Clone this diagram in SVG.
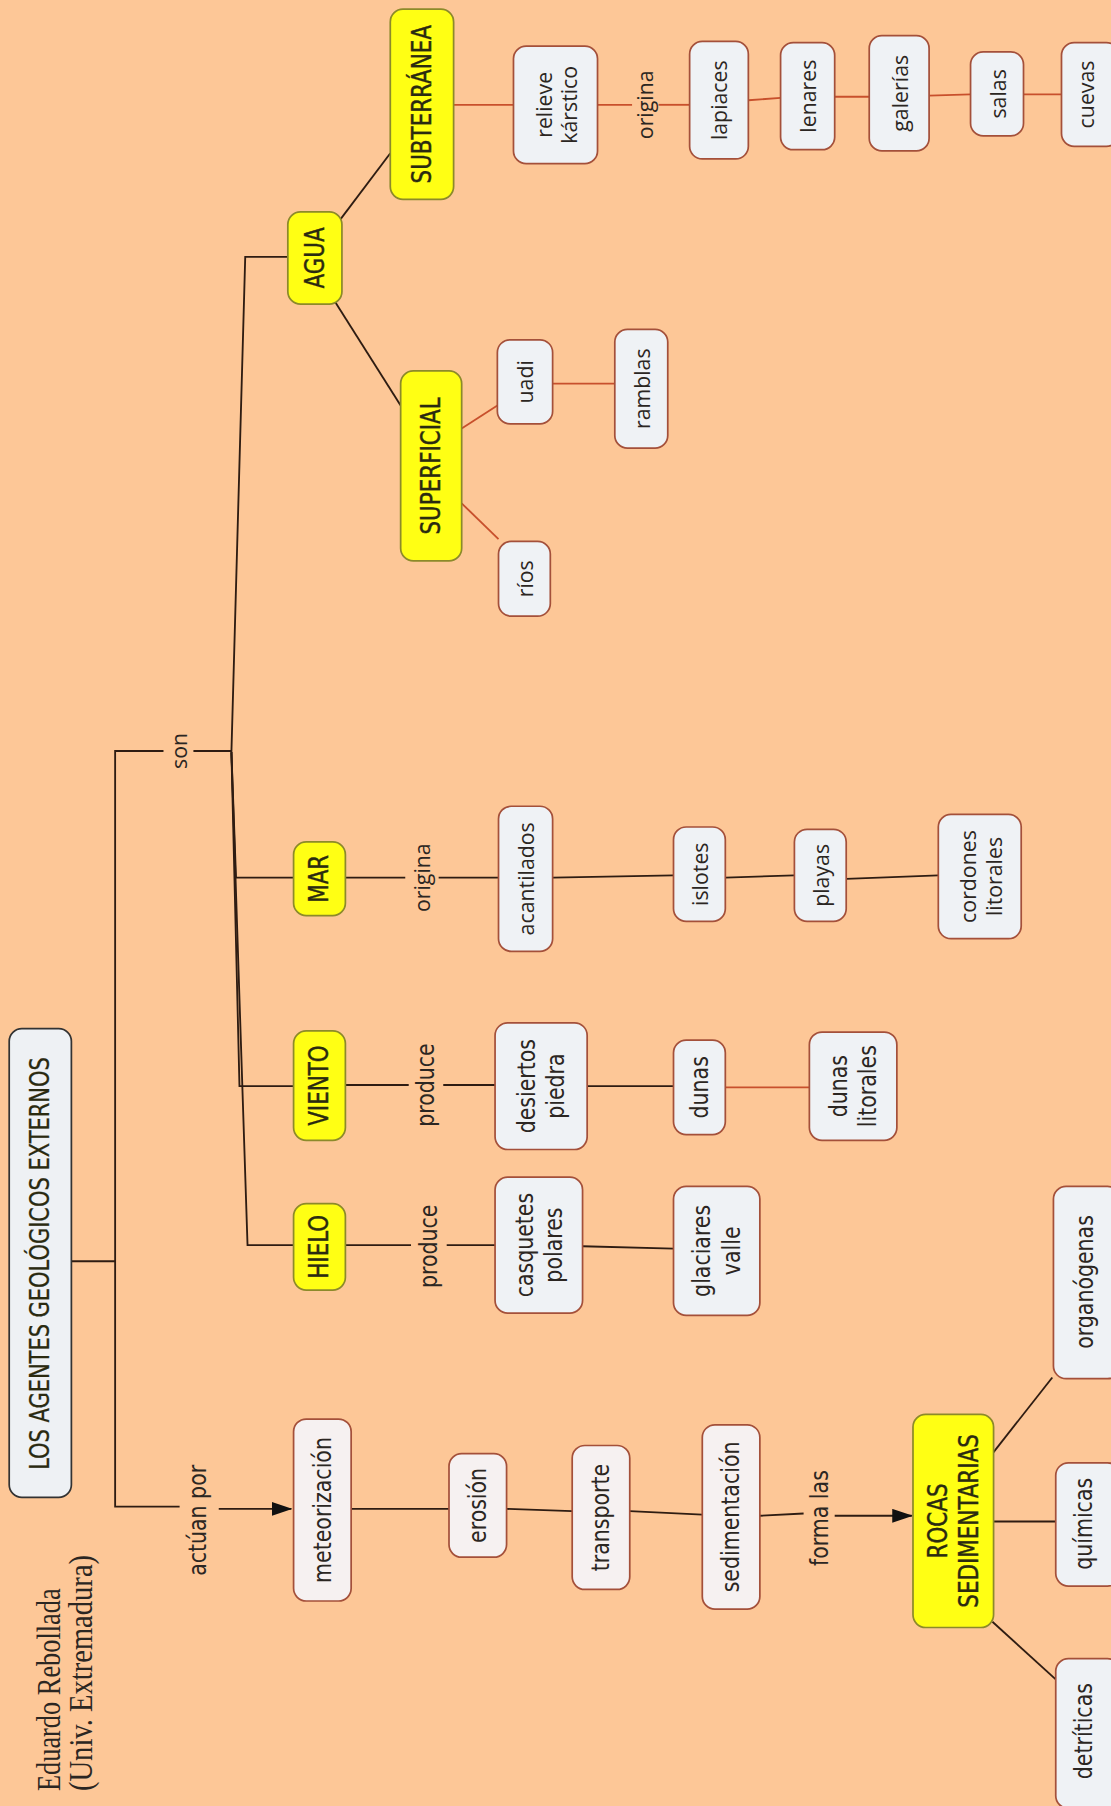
<svg xmlns="http://www.w3.org/2000/svg" width="1111" height="1806" viewBox="0 0 1111 1806">
<defs>
<style>
.bg{fill:#fdc797}
.w{fill:#eff2f5;stroke:#a4503a;stroke-width:1.5}
.p{fill:#f6f1f1;stroke:#a4503a;stroke-width:1.5}
.y{fill:#ffff14;stroke:#8c8a2a;stroke-width:1.5}
.t{fill:#eef1f4;stroke:#333;stroke-width:1.5}
text{fill:#2b2622;text-anchor:middle;dominant-baseline:central}
.c{font-family:"DejaVu Sans Condensed","DejaVu Sans",sans-serif;font-stretch:condensed;font-size:22px}
.cy{font-family:"DejaVu Sans Condensed","DejaVu Sans",sans-serif;font-stretch:condensed;font-size:23px;fill:#2a2a10;stroke:#2a2a10;stroke-width:0.35}
.o{font-family:"Open Sans","DejaVu Sans",sans-serif;font-size:18.5px}
.s{font-family:"Liberation Serif",serif;font-size:30px;text-anchor:start;dominant-baseline:alphabetic}
.k{fill:none;stroke:#2e1c12;stroke-width:1.6}
.r{fill:none;stroke:#c8502c;stroke-width:1.6}
</style>
<marker id="ah" markerUnits="userSpaceOnUse" markerWidth="18" markerHeight="12" viewBox="0 0 18 12" refX="17" refY="6" orient="auto">
<path d="M0,0 L18,6 L0,12 z" fill="#111"/>
</marker>
</defs>
<rect class="bg" x="0" y="0" width="1111" height="1806"/>
<g transform="scale(1.1513,1.1518)">
<g id="connectors">
<path class="k" d="M62,1095 H100"/>
<path class="k" d="M142,652 H100 V1308 H156"/>
<path class="k" d="M168,652 H201"/>
<path class="k" d="M201,653 L213,223 H250"/>
<path class="k" d="M201,653 L205,762 H255"/>
<path class="k" d="M201,653 L208,943 H255"/>
<path class="k" d="M201,653 L215,1081 H255"/>
<path class="k" d="M190,1310 H253" marker-end="url(#ah)"/>
<path class="k" d="M296,190 L339,133"/>
<path class="k" d="M291,262 L348,352"/>
<path class="k" d="M300,762 H352"/>
<path class="k" d="M381,762 H433"/>
<path class="k" d="M300,942 H355"/>
<path class="k" d="M385,942 H430"/>
<path class="k" d="M300,1081 H357"/>
<path class="k" d="M388,1081 H430"/>
<path class="k" d="M506,1082 L585,1084"/>
<path class="k" d="M510,943 H585"/>
<path class="k" d="M480,762 L585,760"/>
<path class="k" d="M630,762 L690,760"/>
<path class="k" d="M735,763 L815,760"/>
<path class="k" d="M305,1310 H390"/>
<path class="k" d="M440,1310 L497,1312"/>
<path class="k" d="M547,1312 L610,1315"/>
<path class="k" d="M660,1316 L698,1314"/>
<path class="k" d="M725,1316 H792" marker-end="url(#ah)"/>
<path class="k" d="M862,1262 L914,1196"/>
<path class="k" d="M863,1321 H917"/>
<path class="k" d="M862,1408 L917,1458"/>
<path class="r" d="M401,372 L432,352"/>
<path class="r" d="M401,437 L433,468"/>
<path class="r" d="M480,333 H534"/>
<path class="r" d="M394,91 H446"/>
<path class="r" d="M519,91 H549"/>
<path class="r" d="M572,91 H599"/>
<path class="r" d="M650,87 L678,85"/>
<path class="r" d="M725,84 H755"/>
<path class="r" d="M807,83 L843,82"/>
<path class="r" d="M889,82 H922"/>
<path class="r" d="M630,944 H703"/>
</g>

<g id="author">
<text class="s" transform="translate(52,1555) rotate(-90)" textLength="176" lengthAdjust="spacingAndGlyphs">Eduardo Rebollada</text>
<text class="s" transform="translate(80,1555) rotate(-90)" textLength="205" lengthAdjust="spacingAndGlyphs">(Univ. Extremadura)</text>
</g>

<g id="n-title"><rect class="t" x="8" y="893" width="54" height="407" rx="11"/><text class="cy" style="stroke-width:0.2;font-size:22.5px" transform="translate(35,1097) rotate(-90) scale(0.9,1)">LOS AGENTES GEOLÓGICOS EXTERNOS</text></g>

<g id="l-son"><text class="o" transform="translate(155,652) rotate(-90)">son</text></g>
<g id="l-actuan"><text class="c" transform="translate(172,1320) rotate(-90) scale(0.9,1)">actúan por</text></g>

<g id="n-hielo"><rect class="y" x="255" y="1045" width="45" height="75" rx="11"/><text class="cy" transform="translate(277.5,1082.5) rotate(-90) scale(0.9,1)">HIELO</text></g>
<g id="n-viento"><rect class="y" x="255" y="895" width="45" height="95" rx="11"/><text class="cy" transform="translate(277.5,942.5) rotate(-90) scale(0.9,1)">VIENTO</text></g>
<g id="n-mar"><rect class="y" x="255" y="731" width="45" height="64" rx="11"/><text class="cy" transform="translate(277.5,763) rotate(-90) scale(0.9,1)">MAR</text></g>
<g id="n-agua"><rect class="y" x="250" y="184" width="47" height="80" rx="11"/><text class="cy" transform="translate(273.5,224) rotate(-90) scale(0.9,1)">AGUA</text></g>
<g id="n-superficial"><rect class="y" x="348" y="322" width="53" height="165" rx="11"/><text class="cy" transform="translate(374.5,404.5) rotate(-90) scale(0.9,1)">SUPERFICIAL</text></g>
<g id="n-subterranea"><rect class="y" x="339" y="8" width="55" height="165" rx="11"/><text class="cy" transform="translate(366.5,90.5) rotate(-90) scale(0.9,1)">SUBTERRÁNEA</text></g>

<g id="l-produce1"><text class="c" transform="translate(372,1082) rotate(-90) scale(0.9,1)">produce</text></g>
<g id="l-produce2"><text class="c" transform="translate(370,942) rotate(-90) scale(0.9,1)">produce</text></g>
<g id="l-origina1"><text class="o" transform="translate(366,762) rotate(-90)">origina</text></g>
<g id="l-origina2"><text class="o" transform="translate(560,91) rotate(-90)">origina</text></g>
<g id="l-forma"><text class="c" transform="translate(712,1318) rotate(-90) scale(0.9,1)">forma las</text></g>

<g id="n-casquetes"><rect class="w" x="430" y="1022" width="76" height="118" rx="11"/><text class="c" transform="translate(468,1081) rotate(-90) scale(0.9,1)"><tspan x="0" dy="-0.58em">casquetes</tspan><tspan x="0" dy="1.16em">polares</tspan></text></g>
<g id="n-glaciares"><rect class="w" x="585" y="1030" width="75" height="112" rx="11"/><text class="c" transform="translate(622.5,1086) rotate(-90) scale(0.9,1)"><tspan x="0" dy="-0.58em">glaciares</tspan><tspan x="0" dy="1.16em">valle</tspan></text></g>
<g id="n-desiertos"><rect class="w" x="430" y="888" width="80" height="110" rx="11"/><text class="c" transform="translate(470,943) rotate(-90) scale(0.9,1)"><tspan x="0" dy="-0.58em">desiertos</tspan><tspan x="0" dy="1.16em">piedra</tspan></text></g>
<g id="n-dunas"><rect class="w" x="585" y="903" width="45" height="82" rx="11"/><text class="c" transform="translate(607.5,944) rotate(-90) scale(0.9,1)">dunas</text></g>
<g id="n-dunaslit"><rect class="w" x="703" y="896" width="76" height="94" rx="11"/><text class="c" transform="translate(741,943) rotate(-90) scale(0.9,1)"><tspan x="0" dy="-0.58em">dunas</tspan><tspan x="0" dy="1.16em">litorales</tspan></text></g>

<g id="n-acantilados"><rect class="w" x="433" y="700" width="47" height="126" rx="11"/><text class="o" transform="translate(456.5,763) rotate(-90)">acantilados</text></g>
<g id="n-islotes"><rect class="w" x="585" y="718" width="45" height="82" rx="11"/><text class="o" transform="translate(607.5,759) rotate(-90)">islotes</text></g>
<g id="n-playas"><rect class="w" x="690" y="720" width="45" height="80" rx="11"/><text class="o" transform="translate(712.5,760) rotate(-90)">playas</text></g>
<g id="n-cordones"><rect class="w" x="815" y="707" width="72" height="108" rx="11"/><text class="o" transform="translate(851,761) rotate(-90)"><tspan x="0" dy="-0.6em">cordones</tspan><tspan x="0" dy="1.2em">litorales</tspan></text></g>

<g id="n-rios"><rect class="w" x="433" y="470" width="45" height="65" rx="11"/><text class="o" transform="translate(455.5,502.5) rotate(-90)">ríos</text></g>
<g id="n-uadi"><rect class="w" x="432" y="295" width="48" height="73" rx="11"/><text class="o" transform="translate(456,331.5) rotate(-90)">uadi</text></g>
<g id="n-ramblas"><rect class="w" x="534" y="286" width="46" height="103" rx="11"/><text class="o" transform="translate(557,337.5) rotate(-90)">ramblas</text></g>
<g id="n-relieve"><rect class="w" x="446" y="40" width="73" height="102" rx="11"/><text class="o" transform="translate(482.5,91) rotate(-90)"><tspan x="0" dy="-0.6em">relieve</tspan><tspan x="0" dy="1.2em">kárstico</tspan></text></g>
<g id="n-lapiaces"><rect class="w" x="599" y="36" width="51" height="102" rx="11"/><text class="o" transform="translate(624.5,87) rotate(-90)">lapiaces</text></g>
<g id="n-lenares"><rect class="w" x="678" y="37" width="47" height="93" rx="11"/><text class="o" transform="translate(701.5,83.5) rotate(-90)">lenares</text></g>
<g id="n-galerias"><rect class="w" x="755" y="31" width="52" height="100" rx="11"/><text class="o" transform="translate(781,81) rotate(-90)">galerías</text></g>
<g id="n-salas"><rect class="w" x="843" y="45" width="46" height="73" rx="11"/><text class="o" transform="translate(866,81.5) rotate(-90)">salas</text></g>
<g id="n-cuevas"><rect class="w" x="922" y="37" width="50" height="90" rx="11"/><text class="o" transform="translate(943,82) rotate(-90)">cuevas</text></g>

<g id="n-meteorizacion"><rect class="p" x="255" y="1232" width="50" height="158" rx="11"/><text class="c" transform="translate(280,1311) rotate(-90) scale(0.9,1)">meteorización</text></g>
<g id="n-erosion"><rect class="p" x="390" y="1262" width="50" height="90" rx="11"/><text class="c" transform="translate(415,1307) rotate(-90) scale(0.9,1)">erosión</text></g>
<g id="n-transporte"><rect class="p" x="497" y="1255" width="50" height="125" rx="11"/><text class="c" transform="translate(522,1317.5) rotate(-90) scale(0.9,1)">transporte</text></g>
<g id="n-sedimentacion"><rect class="p" x="610" y="1237" width="50" height="160" rx="11"/><text class="c" transform="translate(635,1317) rotate(-90) scale(0.9,1)">sedimentación</text></g>
<g id="n-rocas"><rect class="y" x="793" y="1228" width="70" height="185" rx="11"/><text class="cy" transform="translate(828,1320.5) rotate(-90) scale(0.9,1)"><tspan x="0" dy="-0.58em">ROCAS</tspan><tspan x="0" dy="1.16em">SEDIMENTARIAS</tspan></text></g>
<g id="n-organogenas"><rect class="w" x="915" y="1030" width="58" height="167" rx="11"/><text class="c" transform="translate(942,1113) rotate(-90) scale(0.9,1)">organógenas</text></g>
<g id="n-quimicas"><rect class="w" x="917" y="1270" width="56" height="107" rx="11"/><text class="c" transform="translate(941,1323) rotate(-90) scale(0.9,1)">químicas</text></g>
<g id="n-detriticas"><rect class="w" x="917" y="1440" width="56" height="130" rx="11"/><text class="c" transform="translate(941,1503) rotate(-90) scale(0.9,1)">detríticas</text></g>
</g>
</svg>
